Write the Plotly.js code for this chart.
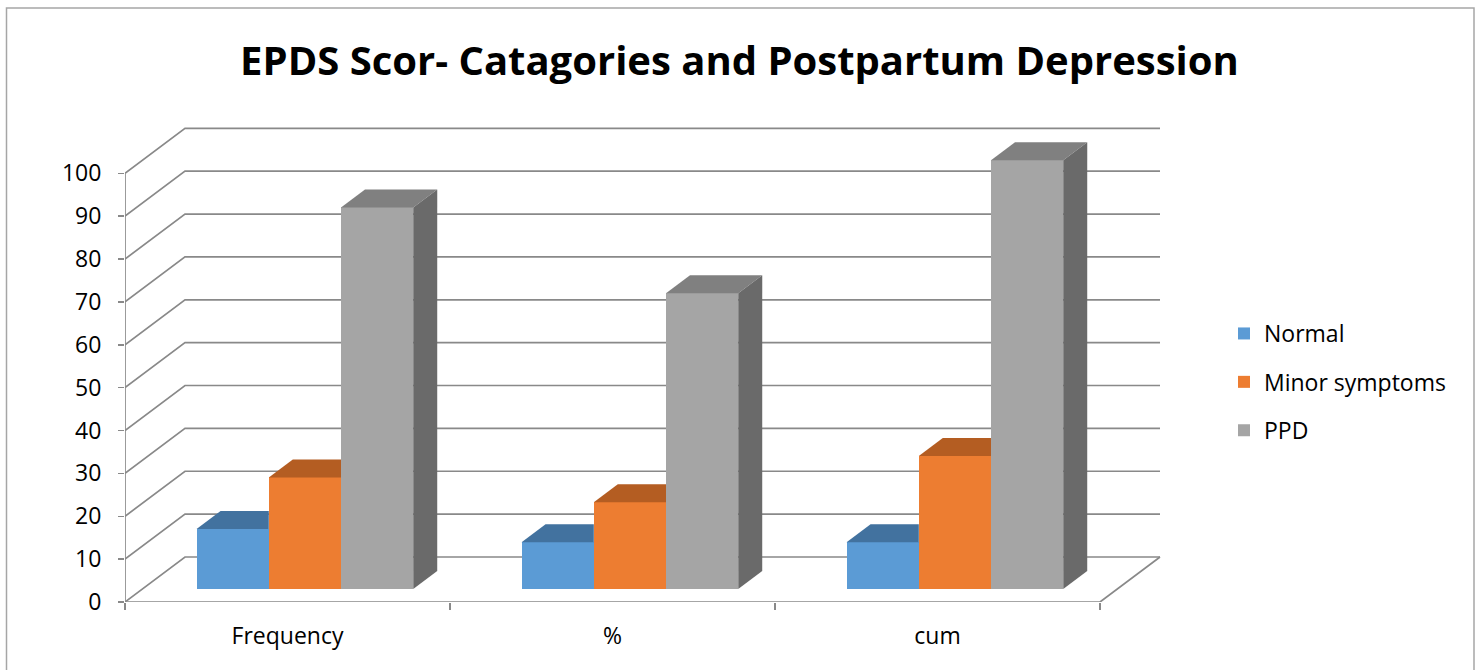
<!DOCTYPE html>
<html>
<head>
<meta charset="utf-8">
<script src="https://cdn.plot.ly/plotly-3.0.1.min.js"></script>
<style>
  html, body { margin: 0; padding: 0; background: #ffffff; }
  #chart { width: 1479px; height: 670px; }
</style>
</head>
<body>
<div id="chart"></div>
<script>
// EPDS score categories: three series across three measures
const categories = ["Frequency", "%", "cum"];
const seriesNames = ["Normal", "Minor symptoms", "PPD"];
const normalValues = [14, 10.9, 10.9];
const minorValues = [26, 20.2, 31.0];
const ppdValues = [89, 69.0, 100];
const valueTicks = [0, 10, 20, 30, 40, 50, 60, 70, 80, 90, 100];

const seriesValues = [normalValues, minorValues, ppdValues];
const frontColors = ["#5B9BD5", "#ED7D31", "#A5A5A5"];
const topColors = ["#42729F", "#B45D22", "#808080"];
const sideColors = ["#3A6690", "#A0521D", "#6A6A6A"];

// Oblique "3-D" projection expressed in axis units
const PX_PER_X = 325;          // pixels per category
const PX_PER_Y = 4.287;        // pixels per value unit
const DEPTH_X = 60 / PX_PER_X; // full floor depth, horizontal shift
const DEPTH_Y = 45 / PX_PER_Y; // full floor depth, vertical shift
const BAR_D0 = 0.29, BAR_D1 = 0.69; // bar front/back depth fractions
const BAR_W = 1 / 4.5;         // gap width 50%
const X_MIN = -0.5, X_MAX = categories.length - 0.5;

const gridColor = "#898989";
const shapes = [];

// Walls: diagonal on the side wall plus the back-wall gridline
valueTicks.forEach(v => {
  shapes.push({type: "path", xref: "x", yref: "y", layer: "below",
    path: `M${X_MIN},${v} L${X_MIN + DEPTH_X},${v + DEPTH_Y} L${X_MAX + DEPTH_X},${v + DEPTH_Y}`,
    line: {color: gridColor, width: 1.7}});
});
// Floor front edge, right edge, and the vertical value axis
shapes.push({type: "path", xref: "x", yref: "y", layer: "below",
  path: `M${X_MIN},0 L${X_MAX},0 L${X_MAX + DEPTH_X},${DEPTH_Y}`,
  line: {color: gridColor, width: 1.7}});
shapes.push({type: "line", xref: "x", yref: "y", layer: "below",
  x0: X_MIN, x1: X_MIN, y0: 0, y1: valueTicks[valueTicks.length - 1],
  line: {color: gridColor, width: 1.7}});

// Outer chart border
shapes.push({type: "rect", xref: "paper", yref: "paper", layer: "below",
  x0: (6.5 - 125) / 1040, x1: (1474 - 125) / 1040,
  y0: -0.2, y1: (602 - 8) / 482,
  line: {color: "#a6a6a6", width: 1.5}, fillcolor: "rgba(0,0,0,0)"});

const baseY = DEPTH_Y * BAR_D0;
const shiftX = DEPTH_X * BAR_D0;
const ddx = DEPTH_X * (BAR_D1 - BAR_D0);
const ddy = DEPTH_Y * (BAR_D1 - BAR_D0);

const traces = seriesValues.map((vals, k) => ({
  type: "bar",
  name: seriesNames[k],
  legendgroup: seriesNames[k],
  x: categories.map((c, i) => i + (k - 1) * BAR_W + shiftX),
  y: vals,
  base: vals.map(() => baseY),
  width: vals.map(() => BAR_W),
  marker: {color: frontColors[k], line: {width: 0}},
  hoverinfo: "skip"
}));

// Top and side faces of each column
categories.forEach((c, i) => {
  seriesValues.forEach((vals, k) => {
    const xL = i + (k - 0.5) * BAR_W - BAR_W + shiftX;
    const xR = xL + BAR_W;
    const top = baseY + vals[i];
    const next = seriesValues[k + 1];
    const hidden = next && next[i] >= vals[i] + ddy;
    const topPath = hidden
      ? `M${xL},${top} L${xR},${top} L${xR},${top + ddy} L${xL + ddx},${top + ddy} Z`
      : `M${xL},${top} L${xR},${top} L${xR + ddx},${top + ddy} L${xL + ddx},${top + ddy} Z`;
    shapes.push({type: "path", xref: "x", yref: "y", layer: "above",
      path: topPath, fillcolor: topColors[k], line: {width: 0}});
    if (!hidden) {
      shapes.push({type: "path", xref: "x", yref: "y", layer: "above",
        path: `M${xR},${baseY} L${xR},${top} L${xR + ddx},${top + ddy} L${xR + ddx},${baseY + ddy} Z`,
        fillcolor: sideColors[k], line: {width: 0}});
    }
  });
});

const font = "'Open Sans', Lato, sans-serif";

const layout = {
  width: 1479, height: 670,
  margin: {l: 125, r: 1479 - 1165, t: 120, b: 68},
  paper_bgcolor: "#ffffff", plot_bgcolor: "rgba(0,0,0,0)",
  font: {family: font, size: 23, color: "#000000"},
  title: {text: "<b>EPDS Scor- Catagories and Postpartum Depression</b>",
    font: {family: font, size: 40, color: "#000000"},
    x: 0.5, xanchor: "center", y: 1 - 61 / 670, yanchor: "middle"},
  barmode: "overlay",
  bargap: 0,
  showlegend: true,
  legend: {x: (1224 - 125) / 1040, xanchor: "left", y: (602 - 382) / 482, yanchor: "middle",
    font: {family: font, size: 23, color: "#000000"}, tracegroupgap: 15.5,
    bgcolor: "rgba(0,0,0,0)"},
  xaxis: {range: [X_MIN, X_MIN + 1040 / PX_PER_X], showgrid: false, zeroline: false,
    showline: false, tickmode: "array", tickvals: [0, 1, 2], ticktext: categories,
    ticks: "", ticklabelstandoff: 18, tickfont: {size: 23},
    minor: {tick0: -0.5, dtick: 1, ticks: "outside", ticklen: 7, tickwidth: 1.5, tickcolor: gridColor, showgrid: false},
    fixedrange: true},
  yaxis: {range: [0, 482 / PX_PER_Y], showgrid: false, zeroline: false, showline: false,
    tickmode: "array", tickvals: valueTicks, ticks: "outside", ticklen: 6, tickwidth: 1.5,
    tickcolor: gridColor, tickfont: {size: 23}, ticklabelstandoff: 12, fixedrange: true},
  shapes: shapes
};

Plotly.newPlot("chart", traces, layout, {displayModeBar: false, staticPlot: true});
</script>
</body>
</html>
